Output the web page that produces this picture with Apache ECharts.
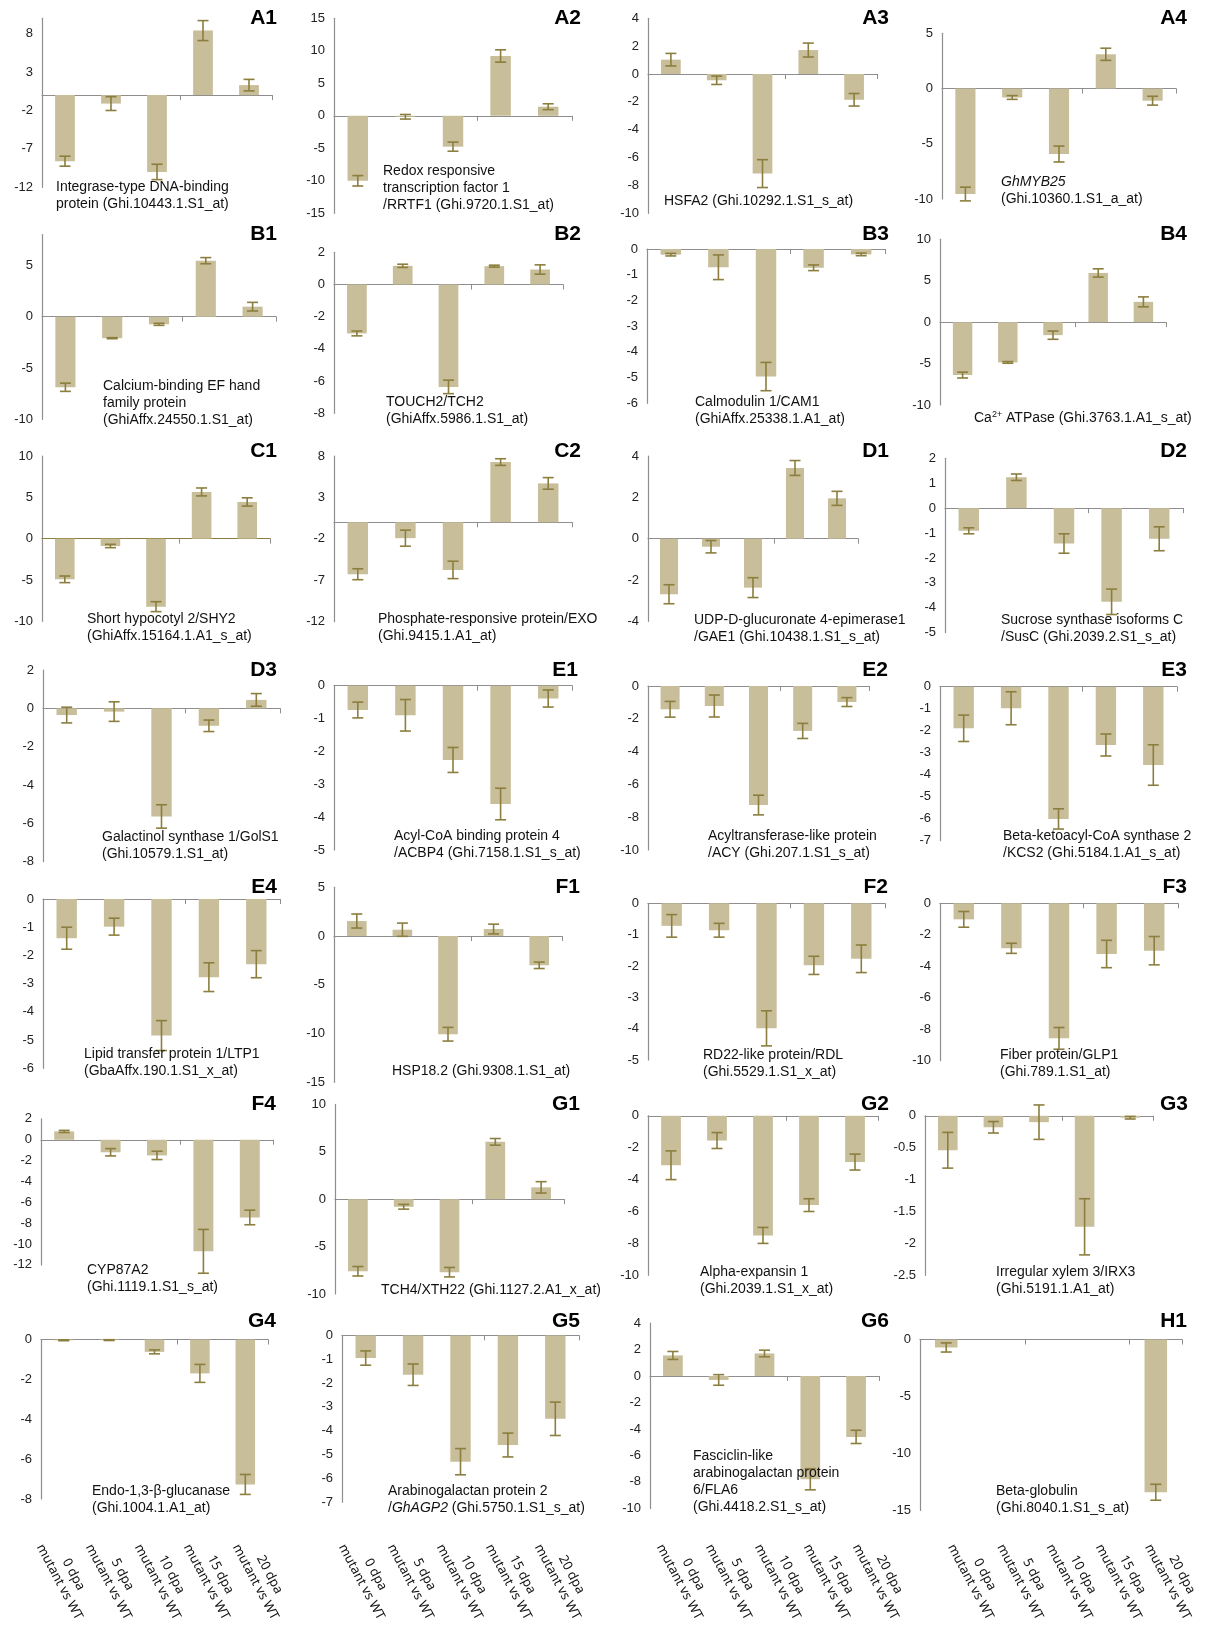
<!DOCTYPE html>
<html><head><meta charset="utf-8">
<script src="https://cdn.jsdelivr.net/npm/echarts@6/dist/echarts.min.js"></script>
<style>html,body{margin:0;padding:0;background:#fff}#c{width:1210px;height:1625px}</style>
</head><body><div id="c"></div>
<script>
// ---------- DATA ----------
const categories = ['0 dpa\nmutant vs WT','5 dpa\nmutant vs WT','10 dpa\nmutant vs WT','15 dpa\nmutant vs WT','20 dpa\nmutant vs WT'];
const panelIds = ['A1','A2','A3','A4','B1','B2','B3','B4','C1','C2','D1','D2','D3','E1','E2','E3',
                  'E4','F1','F2','F3','F4','G1','G2','G3','G4','G5','G6','H1'];

const val_A1 = [-8.6, -1.1, -10.0, 8.4, 1.3];     const err_A1 = [0.65, 0.9, 1.0, 1.3, 0.75];
const val_A2 = [-10.0, -0.15, -4.75, 9.2, 1.4];   const err_A2 = [0.8, 0.35, 0.7, 0.95, 0.45];
const val_A3 = [1.03, -0.45, -7.15, 1.72, -1.85]; const err_A3 = [0.45, 0.3, 1.0, 0.5, 0.45];
const val_A4 = [-9.55, -0.81, -5.93, 3.1, -1.1];  const err_A4 = [0.62, 0.17, 0.72, 0.55, 0.4];
const val_B1 = [-6.88, -2.1, -0.75, 5.45, 0.97];  const err_B1 = [0.4, 0.05, 0.1, 0.3, 0.42];
const val_B2 = [-3.04, 1.16, -6.36, 1.14, 0.93];  const err_B2 = [0.15, 0.1, 0.42, 0.06, 0.29];
const val_B3 = [-0.22, -0.71, -4.96, -0.73, -0.21]; const err_B3 = [0.05, 0.48, 0.55, 0.11, 0.05];
const val_B4 = [-6.39, -4.86, -1.57, 5.94, 2.45]; const err_B4 = [0.35, 0.1, 0.5, 0.5, 0.6];
const val_C1 = [-4.92, -0.89, -8.23, 5.65, 4.44]; const err_C1 = [0.4, 0.2, 0.6, 0.48, 0.5];
const val_C2 = [-6.27, -1.92, -5.75, 7.27, 4.69]; const err_C2 = [0.66, 0.97, 1.05, 0.4, 0.7];
const val_D1 = [-2.69, -0.39, -2.37, 3.42, 1.95]; const err_D1 = [0.46, 0.3, 0.48, 0.36, 0.34];
const val_D2 = [-0.91, 1.24, -1.42, -3.76, -1.23]; const err_D2 = [0.12, 0.13, 0.39, 0.51, 0.48];
const val_D3 = [-0.35, -0.17, -5.64, -0.91, 0.44]; const err_D3 = [0.41, 0.51, 0.61, 0.3, 0.33];
const val_E1 = [-0.74, -0.9, -2.26, -3.6, -0.39]; const err_E1 = [0.24, 0.48, 0.38, 0.48, 0.26];
const val_E2 = [-1.42, -1.22, -7.26, -2.74, -0.98]; const err_E2 = [0.48, 0.67, 0.6, 0.46, 0.27];
const val_E3 = [-1.89, -0.98, -6.01, -2.65, -3.56]; const err_E3 = [0.6, 0.75, 0.46, 0.5, 0.92];
const val_E4 = [-1.39, -0.98, -4.84, -2.77, -2.31]; const err_E4 = [0.39, 0.3, 0.53, 0.51, 0.48];
const val_F1 = [1.54, 0.65, -10.07, 0.72, -3.0]; const err_F1 = [0.72, 0.68, 0.7, 0.5, 0.33];
const val_F2 = [-0.72, -0.86, -3.99, -1.98, -1.77]; const err_F2 = [0.36, 0.22, 0.56, 0.29, 0.44];
const val_F3 = [-1.02, -2.86, -8.58, -3.22, -3.01]; const err_F3 = [0.5, 0.32, 0.69, 0.87, 0.9];
const val_F4 = [0.8, -1.2, -1.5, -10.7, -7.45];   const err_F4 = [0.1, 0.35, 0.4, 2.1, 0.7];
const val_G1 = [-7.6, -0.8, -7.7, 6.05, 1.25];    const err_G1 = [0.5, 0.25, 0.5, 0.35, 0.6];
const val_G2 = [-3.1, -1.55, -7.5, -5.6, -2.9];   const err_G2 = [0.9, 0.5, 0.5, 0.4, 0.5];
const val_G3 = [-0.54, -0.18, -0.1, -1.74, -0.03]; const err_G3 = [0.28, 0.09, 0.27, 0.44, 0.02];
const val_G4 = [-0.04, -0.03, -0.62, -1.7, -7.27]; const err_G4 = [0.02, 0.02, 0.1, 0.45, 0.5];
const val_G5 = [-0.95, -1.65, -5.3, -4.6, -3.5];  const err_G5 = [0.3, 0.45, 0.55, 0.5, 0.7];
const val_G6 = [1.55, -0.3, 1.7, -7.8, -4.6];     const err_G6 = [0.3, 0.4, 0.25, 0.8, 0.5];
const val_H1 = [-0.7, 0, 0, 0, -13.4];            const err_H1 = [0.4, 0, 0, 0, 0.7];

// y-axis ranges and tick labels
const range_A1 = [-12, 10]; const ticks_A1 = [-12, -7, -2, 3, 8];
const range_A2 = [-15, 15]; const ticks_A2 = [-15, -10, -5, 0, 5, 10, 15];
const range_A3 = [-10, 4];  const ticks_A3 = [-10, -8, -6, -4, -2, 0, 2, 4];
const range_A4 = [-10, 5];  const ticks_A4 = [-10, -5, 0, 5];
const range_B1 = [-10, 8];  const ticks_B1 = [-10, -5, 0, 5];
const range_B2 = [-8, 2];   const ticks_B2 = [-8, -6, -4, -2, 0, 2];
const range_B3 = [-6, 0];   const ticks_B3 = [-6, -5, -4, -3, -2, -1, 0];
const range_B4 = [-10, 10]; const ticks_B4 = [-10, -5, 0, 5, 10];
const range_C1 = [-10, 10]; const ticks_C1 = [-10, -5, 0, 5, 10];
const range_C2 = [-12, 8];  const ticks_C2 = [-12, -7, -2, 3, 8];
const range_D1 = [-4, 4];   const ticks_D1 = [-4, -2, 0, 2, 4];
const range_D2 = [-5, 2];   const ticks_D2 = [-5, -4, -3, -2, -1, 0, 1, 2];
const range_D3 = [-8, 2];   const ticks_D3 = [-8, -6, -4, -2, 0, 2];
const range_E1 = [-5, 0];   const ticks_E1 = [-5, -4, -3, -2, -1, 0];
const range_E2 = [-10, 0];  const ticks_E2 = [-10, -8, -6, -4, -2, 0];
const range_E3 = [-7, 0];   const ticks_E3 = [-7, -6, -5, -4, -3, -2, -1, 0];
const range_E4 = [-6, 0];   const ticks_E4 = [-6, -5, -4, -3, -2, -1, 0];
const range_F1 = [-15, 5];  const ticks_F1 = [-15, -10, -5, 0, 5];
const range_F2 = [-5, 0];   const ticks_F2 = [-5, -4, -3, -2, -1, 0];
const range_F3 = [-10, 0];  const ticks_F3 = [-10, -8, -6, -4, -2, 0];
const range_F4 = [-12, 2];  const ticks_F4 = [-12, -10, -8, -6, -4, -2, 0, 2];
const range_G1 = [-10, 10]; const ticks_G1 = [-10, -5, 0, 5, 10];
const range_G2 = [-10, 0];  const ticks_G2 = [-10, -8, -6, -4, -2, 0];
const range_G3 = [-2.5, 0]; const ticks_G3 = [-2.5, -2, -1.5, -1, -0.5, 0];
const range_G4 = [-8, 0];   const ticks_G4 = [-8, -6, -4, -2, 0];
const range_G5 = [-7, 0];   const ticks_G5 = [-7, -6, -5, -4, -3, -2, -1, 0];
const range_G6 = [-10, 4];  const ticks_G6 = [-10, -8, -6, -4, -2, 0, 2, 4];
const range_H1 = [-15, 0];  const ticks_H1 = [-15, -10, -5, 0];

const geneText = [
  'Integrase-type DNA-binding\nprotein (Ghi.10443.1.S1_at)',
  'Redox responsive\ntranscription factor 1\n/RRTF1 (Ghi.9720.1.S1_at)',
  'HSFA2 (Ghi.10292.1.S1_s_at)',
  '{i|GhMYB25}\n(Ghi.10360.1.S1_a_at)',
  'Calcium-binding EF hand\nfamily protein\n(GhiAffx.24550.1.S1_at)',
  'TOUCH2/TCH2\n(GhiAffx.5986.1.S1_at)',
  'Calmodulin 1/CAM1\n(GhiAffx.25338.1.A1_at)',
  'Ca{sup|2+} ATPase (Ghi.3763.1.A1_s_at)',
  'Short hypocotyl 2/SHY2\n(GhiAffx.15164.1.A1_s_at)',
  'Phosphate-responsive protein/EXO\n(Ghi.9415.1.A1_at)',
  'UDP-D-glucuronate 4-epimerase1\n/GAE1 (Ghi.10438.1.S1_s_at)',
  'Sucrose synthase isoforms C\n/SusC (Ghi.2039.2.S1_s_at)',
  'Galactinol synthase 1/GolS1\n(Ghi.10579.1.S1_at)',
  'Acyl-CoA binding protein 4\n/ACBP4 (Ghi.7158.1.S1_s_at)',
  'Acyltransferase-like protein\n/ACY (Ghi.207.1.S1_s_at)',
  'Beta-ketoacyl-CoA synthase 2\n/KCS2 (Ghi.5184.1.A1_s_at)',
  'Lipid transfer protein 1/LTP1\n(GbaAffx.190.1.S1_x_at)',
  'HSP18.2 (Ghi.9308.1.S1_at)',
  'RD22-like protein/RDL\n(Ghi.5529.1.S1_x_at)',
  'Fiber protein/GLP1\n(Ghi.789.1.S1_at)',
  'CYP87A2\n(Ghi.1119.1.S1_s_at)',
  'TCH4/XTH22 (Ghi.1127.2.A1_x_at)',
  'Alpha-expansin 1\n(Ghi.2039.1.S1_x_at)',
  'Irregular xylem 3/IRX3\n(Ghi.5191.1.A1_at)',
  'Endo-1,3-β-glucanase\n(Ghi.1004.1.A1_at)',
  'Arabinogalactan protein 2\n/{i|GhAGP2} (Ghi.5750.1.S1_s_at)',
  'Fasciclin-like\narabinogalactan protein\n6/FLA6\n(Ghi.4418.2.S1_s_at)',
  'Beta-globulin\n(Ghi.8040.1.S1_s_at)'
];

// ---------- LAYOUT (pixels) ----------
// [gridLeft, gridTop, gridWidth, gridHeight, labelRight, labelTop, textLeft, textTop]
const layout = {
  A1:[42, 18.3, 230, 169, 277, 8, 56, 179],
  A2:[334, 18.3, 238, 195, 581, 8, 383, 163],
  A3:[648, 18.3, 229, 195, 889, 8, 664, 193],
  A4:[942, 33.3, 234, 165.7, 1187, 8, 1001, 174],
  B1:[42, 234.5, 234, 184.8, 277, 224, 103, 378],
  B2:[334, 252.3, 229, 161, 581, 224, 386, 394],
  B3:[647, 249, 238, 154.3, 889, 224, 695, 394],
  B4:[940, 239.3, 226, 165.7, 1187, 224, 974, 410],
  C1:[42, 456, 228, 165.3, 277, 441, 87, 611],
  C2:[334, 456, 238, 165.7, 581, 441, 378, 611],
  D1:[648, 456, 210, 165.3, 889, 441, 694, 612],
  D2:[945, 458.3, 238, 174.4, 1187, 441, 1001, 612],
  D3:[43, 670, 237, 191.7, 277, 660, 102, 829],
  E1:[334, 685.7, 238, 164.3, 578, 660, 394, 828],
  E2:[648, 686, 221, 164, 888, 660, 708, 828],
  E3:[940, 686.7, 237, 154, 1187, 660, 1003, 828],
  E4:[43, 899, 237, 169.3, 277, 877, 84, 1046],
  F1:[334, 887.3, 228, 195, 580, 877, 392, 1063],
  F2:[648, 903.3, 237, 156.7, 888, 877, 703, 1047],
  F3:[940, 903.3, 238, 157.4, 1187, 877, 1000, 1047],
  F4:[41, 1118.9, 232, 146, 276, 1094, 87, 1262],
  G1:[335, 1104.4, 229, 189.6, 580, 1094, 381, 1282],
  G2:[648, 1115.8, 230, 159.5, 889, 1094, 700, 1264],
  G3:[925, 1115.8, 228, 159.5, 1188, 1094, 996, 1264],
  G4:[41, 1339.5, 227, 159.5, 276, 1311, 92, 1483],
  G5:[342, 1335.4, 237, 166.8, 580, 1311, 388, 1483],
  G6:[650, 1323, 229, 185.4, 889, 1311, 693, 1448],
  H1:[920, 1339.5, 262, 171, 1187, 1311, 996, 1483]
};
// bottom category-label strips: [left, width]
const labelStrips = [[42, 245], [344, 245], [662, 245], [953, 247]];

const DATA = {A1:[val_A1,err_A1,range_A1,ticks_A1],A2:[val_A2,err_A2,range_A2,ticks_A2],A3:[val_A3,err_A3,range_A3,ticks_A3],A4:[val_A4,err_A4,range_A4,ticks_A4],
  B1:[val_B1,err_B1,range_B1,ticks_B1],B2:[val_B2,err_B2,range_B2,ticks_B2],B3:[val_B3,err_B3,range_B3,ticks_B3],B4:[val_B4,err_B4,range_B4,ticks_B4],
  C1:[val_C1,err_C1,range_C1,ticks_C1],C2:[val_C2,err_C2,range_C2,ticks_C2],D1:[val_D1,err_D1,range_D1,ticks_D1],D2:[val_D2,err_D2,range_D2,ticks_D2],
  D3:[val_D3,err_D3,range_D3,ticks_D3],E1:[val_E1,err_E1,range_E1,ticks_E1],E2:[val_E2,err_E2,range_E2,ticks_E2],E3:[val_E3,err_E3,range_E3,ticks_E3],
  E4:[val_E4,err_E4,range_E4,ticks_E4],F1:[val_F1,err_F1,range_F1,ticks_F1],F2:[val_F2,err_F2,range_F2,ticks_F2],F3:[val_F3,err_F3,range_F3,ticks_F3],
  F4:[val_F4,err_F4,range_F4,ticks_F4],G1:[val_G1,err_G1,range_G1,ticks_G1],G2:[val_G2,err_G2,range_G2,ticks_G2],G3:[val_G3,err_G3,range_G3,ticks_G3],
  G4:[val_G4,err_G4,range_G4,ticks_G4],G5:[val_G5,err_G5,range_G5,ticks_G5],G6:[val_G6,err_G6,range_G6,ticks_G6],H1:[val_H1,err_H1,range_H1,ticks_H1]};

// ---------- STYLE ----------
const BAR_COLOR = '#c8be99';
const ERR_COLOR = '#8b7e3e';
const AXIS_COLOR = '#8e8e8e';
const FONT = '"Liberation Sans", Arial, sans-serif';

function renderErr(params, api) {
  const x = api.value(0);
  const lo = api.coord([x, api.value(1)]);
  const hi = api.coord([x, api.value(2)]);
  const h = 5.5;
  const st = {stroke: ERR_COLOR, lineWidth: 1.6};
  return {type: 'group', children: [
    {type: 'line', shape: {x1: lo[0], y1: lo[1], x2: hi[0], y2: hi[1]}, style: st},
    {type: 'line', shape: {x1: lo[0]-h, y1: lo[1], x2: lo[0]+h, y2: lo[1]}, style: st},
    {type: 'line', shape: {x1: hi[0]-h, y1: hi[1], x2: hi[0]+h, y2: hi[1]}, style: st}
  ]};
}

const option = {animation: false, backgroundColor: '#ffffff', grid: [], xAxis: [], yAxis: [], series: [], title: []};

panelIds.forEach((id, i) => {
  const L = layout[id];
  const [vals, errs, rng, ticks] = DATA[id];
  option.grid.push({left: L[0], top: L[1], width: L[2], height: L[3]});
  option.xAxis.push({
    type: 'category', gridIndex: i, data: categories,
    axisLine: {onZero: true, lineStyle: {color: id === 'C1' ? ERR_COLOR : AXIS_COLOR, width: 1.2}},
    axisTick: {show: true, length: 5, lineStyle: {color: AXIS_COLOR, width: 1}},
    axisLabel: {show: false}, splitLine: {show: false}
  });
  option.yAxis.push({
    type: 'value', gridIndex: i, min: rng[0], max: rng[1],
    axisLine: {show: true, lineStyle: {color: AXIS_COLOR, width: 1.2}},
    axisTick: {show: false}, splitLine: {show: false},
    axisLabel: {customValues: ticks, margin: 9, fontSize: 13, color: '#222', fontFamily: FONT}
  });
  option.series.push({type: 'bar', xAxisIndex: i, yAxisIndex: i, data: vals, barWidth: '43%',
    itemStyle: {color: BAR_COLOR}, silent: true});
  const eb = [];
  vals.forEach((v, k) => { if (errs[k] > 0) eb.push([k, v - errs[k], v + errs[k]]); });
  option.series.push({type: 'custom', xAxisIndex: i, yAxisIndex: i, data: eb, renderItem: renderErr,
    encode: {x: 0, y: [1, 2]}, z: 5, silent: true, clip: false});
  option.title.push({text: id, right: 1210 - L[4], top: L[5], padding: 0,
    textStyle: {fontSize: 21, fontWeight: 'bold', fontFamily: FONT, color: '#000'}});
  option.title.push({text: geneText[i], left: L[6], top: L[7], padding: 0,
    textStyle: {fontSize: 14, lineHeight: 17, fontWeight: 'normal', fontFamily: FONT, color: '#111',
      rich: {i: {fontStyle: 'italic', fontSize: 14, lineHeight: 17, fontFamily: FONT, color: '#111'},
             sup: {fontSize: 9, lineHeight: 17, verticalAlign: 'top', fontFamily: FONT, color: '#111', padding: [0, 0, 6, 0]}}}});
});

labelStrips.forEach((s, j) => {
  const gi = panelIds.length + j;
  option.grid.push({left: s[0], top: 1533, width: s[1], height: 1});
  option.xAxis.push({type: 'category', gridIndex: gi, data: categories,
    axisLine: {show: false}, axisTick: {show: false}, splitLine: {show: false},
    axisLabel: {interval: 0, rotate: -62, align: 'center', verticalAlign: 'middle', margin: 45,
      fontSize: 13, lineHeight: 16, fontFamily: '"Noto Sans", "Open Sans", sans-serif', color: '#111'}});
  option.yAxis.push({type: 'value', gridIndex: gi, show: false});
});

const chart = echarts.init(document.getElementById('c'), null, {renderer: 'canvas'});
chart.setOption(option);
</script>
</body></html>
